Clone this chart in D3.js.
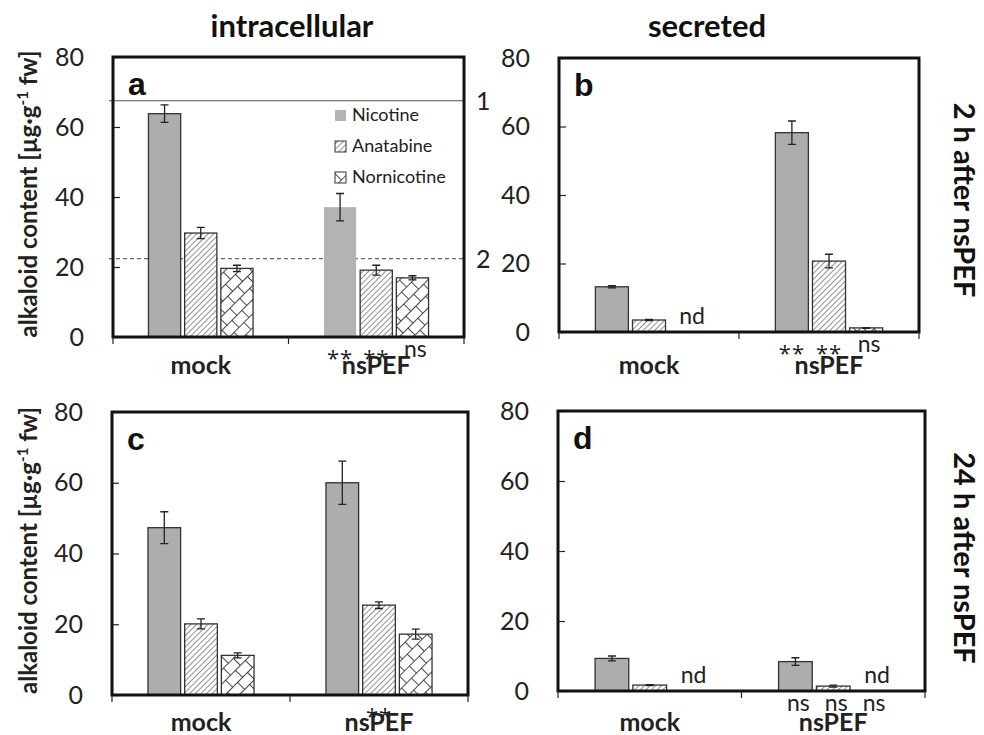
<!DOCTYPE html>
<html>
<head>
<meta charset="utf-8">
<script src="https://cdn.jsdelivr.net/npm/d3@7"></script>
<style>
  body { margin: 0; background: #fff; }
  svg { display: block; font-family: Lato, "Open Sans", sans-serif; }
</style>
</head>
<body>
<div id="chart"></div>
<script>
// categories and series
const categories = ["mock", "nsPEF"];
const series = ["Nicotine", "Anatabine", "Nornicotine"];
const yTicks = [0, 20, 40, 60, 80];

// values, [category][series], null = not detected
const aValues = [[63.8, 29.7, 19.6], [37.1, 19.1, 16.9]];
const aErrors = [[2.5, 1.6, 0.9], [3.9, 1.4, 0.6]];
const bValues = [[13.2, 3.5, null], [58.2, 20.7, 1.2]];
const bErrors = [[0.3, 0.15, 0], [3.4, 2.0, 0.1]];
const cValues = [[47.3, 20.1, 11.2], [60.0, 25.4, 17.2]];
const cErrors = [[4.5, 1.4, 0.7], [6.1, 0.95, 1.4]];
const dValues = [[9.3, 1.7, null], [8.4, 1.4, null]];
const dErrors = [[0.7, 0.15, 0], [1.1, 0.3, 0]];

// significance marks under the nsPEF bars
const aSig = [[], ["**", "**", "ns"]];
const bSig = [[], ["**", "**", "ns"]];
const cSig = [[], ["", "**", ""]];
const dSig = [[], ["ns", "ns", "ns"]];

// reference lines in panel a
const refLines = [
  { value: 67.5, label: "1", dashed: false },
  { value: 22.4, label: "2", dashed: true }
];

const width = 984, height = 735;

const svg = d3.select("#chart").append("svg")
    .attr("width", width)
    .attr("height", height);

// fill patterns
const defs = svg.append("defs");
const hatch = defs.append("pattern")
    .attr("id", "hatch")
    .attr("patternUnits", "userSpaceOnUse")
    .attr("width", 4).attr("height", 4)
    .attr("patternTransform", "rotate(45)");
hatch.append("rect").attr("width", 4).attr("height", 4).attr("fill", "#fff");
hatch.append("line").attr("x1", 0).attr("y1", 0).attr("x2", 0).attr("y2", 4)
    .attr("stroke", "#555").attr("stroke-width", 1.3);

// staggered bricks turned 45deg
const brick = defs.append("pattern")
    .attr("id", "brick")
    .attr("patternUnits", "userSpaceOnUse")
    .attr("width", 14).attr("height", 20)
    .attr("patternTransform", "rotate(-45)");
brick.append("rect").attr("width", 14).attr("height", 20).attr("fill", "#fff");
brick.append("path")
    .attr("d", "M0,0.5H14M0,10.5H14M0.5,0.5V10.5M7.5,10.5V20")
    .attr("stroke", "#333").attr("stroke-width", 0.9).attr("fill", "none");

const fills = { Nicotine: "#adadad", Anatabine: "url(#hatch)", Nornicotine: "url(#brick)" };

const panels = [
  { id: "a", values: aValues, errors: aErrors, sig: aSig, left: 113, right: 464, top: 57, bottom: 337, labelY: 374, ylabel: true, refs: true, legend: true },
  { id: "b", values: bValues, errors: bErrors, sig: bSig, left: 559, right: 919, top: 58, bottom: 332, labelY: 374 },
  { id: "c", values: cValues, errors: cErrors, sig: cSig, left: 112, right: 468, top: 412, bottom: 695, labelY: 731, ylabel: true },
  { id: "d", values: dValues, errors: dErrors, sig: dSig, left: 558, right: 925, top: 411, bottom: 691, labelY: 731 }
];

function drawPanel(p) {
  const g = svg.append("g");

  const y = d3.scaleLinear().domain([0, 80]).range([p.bottom, p.top]);
  const x0 = d3.scaleBand().domain(categories).range([p.left, p.right]);
  const x1 = d3.scaleBand().domain(series).range([0, x0.bandwidth()])
      .paddingInner(0.11).paddingOuter(0.98);

  // y axis, ticks pointing inward
  const yAxis = g.append("g")
      .attr("transform", `translate(${p.left},0)`)
      .call(d3.axisLeft(y).tickValues(yTicks).tickSize(-7).tickPadding(29));
  yAxis.select(".domain").remove();
  yAxis.selectAll("line").attr("stroke", "#222").attr("stroke-width", 1.2);
  yAxis.selectAll("text")
      .attr("font-family", "Lato, sans-serif")
      .attr("font-size", 25)
      .attr("fill", "#222");

  // reference lines
  if (p.refs) {
    refLines.forEach(r => {
      g.append("line")
          .attr("x1", p.left - 4).attr("x2", p.right)
          .attr("y1", y(r.value)).attr("y2", y(r.value))
          .attr("stroke", r.dashed ? "#666" : "#555")
          .attr("stroke-width", r.dashed ? 1.2 : 1.1)
          .attr("stroke-dasharray", r.dashed ? "4,3" : null);
      g.append("text")
          .attr("x", p.right + 12).attr("y", y(r.value) + 9)
          .attr("font-size", 25).attr("fill", "#222")
          .text(r.label);
    });
  }

  // bars
  categories.forEach((cat, ci) => {
    series.forEach((s, si) => {
      const v = p.values[ci][si];
      const bx = x0(cat) + x1(s);
      const bw = x1.bandwidth();

      const sig = p.sig[ci][si];
      if (sig === "ns") {
        g.append("text")
            .attr("x", bx + bw / 2 + 3)
            .attr("y", p.bottom + 20)
            .attr("text-anchor", "middle")
            .attr("font-size", 23).attr("fill", "#222")
            .text(sig);
      } else if (sig) {
        g.append("text")
            .attr("x", bx + bw / 2)
            .attr("y", p.bottom + 29)
            .attr("text-anchor", "middle")
            .attr("font-family", "'Open Sans', sans-serif")
            .attr("font-size", 22).attr("fill", "#222")
            .attr("letter-spacing", 1)
            .text(sig);
      }

      if (v === null) {
        g.append("text")
            .attr("x", bx + bw / 2 + 6)
            .attr("y", y(0) - 8)
            .attr("text-anchor", "middle")
            .attr("font-size", 23).attr("fill", "#222")
            .text("nd");
        return;
      }
      // the treated nicotine bar of panel a has no outline
      const plain = p.id === "a" && cat === "nsPEF" && s === "Nicotine";
      g.append("rect")
          .attr("x", bx).attr("width", bw)
          .attr("y", y(v)).attr("height", y(0) - y(v))
          .attr("fill", plain ? "#b3b3b3" : fills[s])
          .attr("stroke", plain ? "none" : "#333")
          .attr("stroke-width", 1.3);

      const e = p.errors[ci][si];
      if (e > 0) {
        const cx = bx + bw / 2;
        g.append("path")
            .attr("d", `M${cx - 4},${y(v + e)}H${cx + 4}M${cx},${y(v + e)}V${y(v - e)}M${cx - 4},${y(v - e)}H${cx + 4}`)
            .attr("stroke", "#222").attr("stroke-width", 1.3).attr("fill", "none");
      }
    });
  });

  // frame
  g.append("rect")
      .attr("x", p.left).attr("y", p.top)
      .attr("width", p.right - p.left).attr("height", p.bottom - p.top)
      .attr("fill", "none").attr("stroke", "#111").attr("stroke-width", 3);

  // category boundary ticks below the axis
  const bounds = [p.left].concat(categories.map(c => x0(c) + x0.bandwidth()));
  g.selectAll(".xtick").data(bounds).enter().append("line")
      .attr("x1", d => d).attr("x2", d => d)
      .attr("y1", p.bottom).attr("y2", p.bottom + 7)
      .attr("stroke", "#222").attr("stroke-width", 1.2);

  g.selectAll(".xlabel").data(categories).enter().append("text")
      .attr("x", d => x0(d) + x0.bandwidth() / 2)
      .attr("y", p.labelY)
      .attr("text-anchor", "middle")
      .attr("font-size", 25).attr("font-weight", "bold").attr("fill", "#222")
      .text(d => d);

  // panel letter
  g.append("text")
      .attr("x", p.left + 15).attr("y", p.top + 38)
      .attr("font-family", "Liberation Sans, Arial, sans-serif")
      .attr("font-size", 32).attr("font-weight", "bold").attr("fill", "#111")
      .text(p.id);

  if (p.ylabel) {
    const t = g.append("text")
        .attr("transform", `translate(37,${(p.top + p.bottom) / 2 - 3}) rotate(-90)`)
        .attr("text-anchor", "middle")
        .attr("font-size", 24).attr("font-weight", "bold").attr("fill", "#222");
    t.append("tspan").text("alkaloid content [µg·g");
    t.append("tspan").attr("font-size", 15).attr("dy", -9).text("-1");
    t.append("tspan").attr("dy", 9).text(" fw]");
  }

  if (p.legend) {
    const lg = g.append("g").attr("transform", `translate(335,${p.top + 58})`);
    series.forEach((s, i) => {
      lg.append("rect")
          .attr("x", 0).attr("y", i * 31 - 5).attr("width", 11).attr("height", 11)
          .attr("fill", i === 0 ? "#b3b3b3" : fills[s])
          .attr("stroke", i === 0 ? "none" : "#333").attr("stroke-width", 1);
      lg.append("text")
          .attr("x", 17).attr("y", i * 31 + 6)
          .attr("font-size", 18).attr("fill", "#222")
          .text(s);
    });
  }
}

panels.forEach(drawPanel);

// column titles
svg.append("text")
    .attr("x", 292).attr("y", 37)
    .attr("text-anchor", "middle")
    .attr("font-size", 31).attr("font-weight", "bold").attr("fill", "#111")
    .text("intracellular");
svg.append("text")
    .attr("x", 707).attr("y", 37)
    .attr("text-anchor", "middle")
    .attr("font-size", 31).attr("font-weight", "bold").attr("fill", "#111")
    .text("secreted");

// row titles on the right
[["2 h after nsPEF", 200], ["24 h after nsPEF", 558]].forEach(([label, cy]) => {
  svg.append("text")
      .attr("transform", `translate(954,${cy}) rotate(90)`)
      .attr("text-anchor", "middle")
      .attr("font-size", 29).attr("font-weight", "bold").attr("fill", "#111")
      .text(label);
});
</script>
</body>
</html>
